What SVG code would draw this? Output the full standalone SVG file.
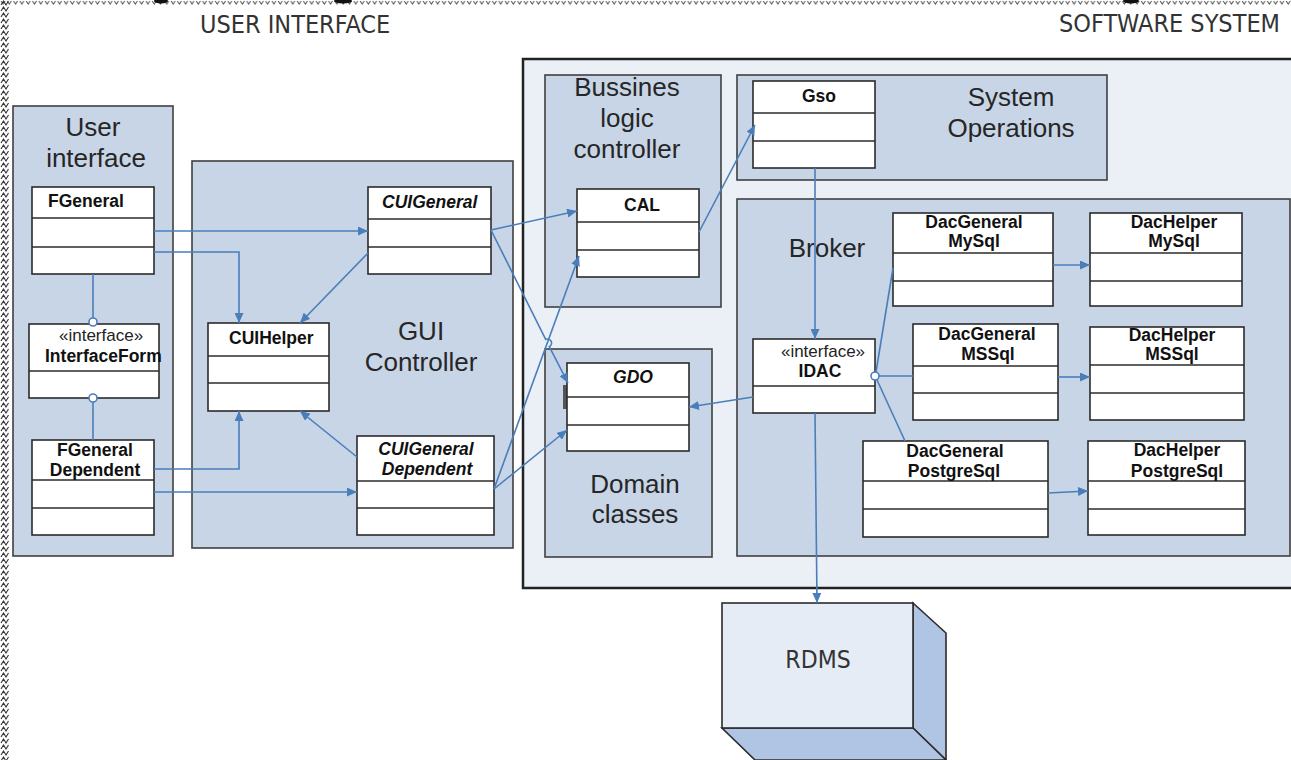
<svg xmlns="http://www.w3.org/2000/svg" width="1291" height="760" viewBox="0 0 1291 760">
<defs>
<style>
.cont{fill:#c8d5e6;stroke:#404040;stroke-width:1.6}
.box{fill:#ffffff;stroke:#2b2b2b;stroke-width:1.6}
.div{stroke:#2b2b2b;stroke-width:1.6}
.cls{font-family:"Liberation Sans",Arial,sans-serif;font-size:17.5px;font-weight:bold;fill:#111}
.it{font-style:italic}
.st{font-family:"Liberation Sans",Arial,sans-serif;font-size:17px;fill:#222}
.title{font-family:"Liberation Sans",Arial,sans-serif;font-size:26px;fill:#262626;text-anchor:middle}
.head{font-family:"DejaVu Sans Condensed","Liberation Sans",sans-serif;font-size:25px;fill:#333}
.con{fill:none;stroke:#4a7ebb;stroke-width:1.6}
.arr{marker-end:url(#ah)}
.lol{fill:#ffffff;stroke:#4a7ebb;stroke-width:1.6}
</style>
<marker id="ah" markerUnits="userSpaceOnUse" markerWidth="11" markerHeight="9" refX="10" refY="4.5" orient="auto">
<path d="M0,0 L10,4.5 L0,9 z" fill="#4a7ebb"/>
</marker>
<pattern id="zl" patternUnits="userSpaceOnUse" width="10" height="6">
<path d="M1,5 L3.5,1 L6,5 L8.5,1" fill="none" stroke="#333" stroke-width="1.1"/>
</pattern>
<pattern id="zt" patternUnits="userSpaceOnUse" width="6.3" height="5">
<path d="M1,1 L3,4 L5,1" fill="none" stroke="#555" stroke-width="1"/>
</pattern>
</defs>
<rect x="0" y="0" width="1291" height="760" fill="#ffffff"/>
<rect x="0" y="0" width="1291" height="5" fill="url(#zt)"/>
<rect x="0" y="0" width="10" height="760" fill="url(#zl)"/>
<ellipse cx="161" cy="1" rx="7" ry="2.5" fill="#111"/>
<ellipse cx="343" cy="1" rx="9" ry="2.5" fill="#111"/>
<ellipse cx="1131" cy="1" rx="8" ry="2.5" fill="#111"/>

<text class="head" x="200" y="33">USER INTERFACE</text>
<text class="head" x="1280" y="32" text-anchor="end">SOFTWARE SYSTEM</text>

<!-- containers -->
<g id="user-interface">
<rect class="cont" x="13" y="106" width="160" height="450"/>
<text class="title" x="93" y="136">User</text>
<text class="title" x="96" y="167">interface</text>
</g>
<g id="gui-controller">
<rect class="cont" x="192" y="161" width="321" height="387"/>
<text class="title" x="421" y="340">GUI</text>
<text class="title" x="421" y="371">Controller</text>
</g>
<g id="software-system">
<rect x="523" y="59" width="775" height="529" fill="#ebeff6" stroke="#222" stroke-width="2.5"/>
</g>
<g id="business-logic">
<rect class="cont" x="545" y="75" width="176" height="232"/>
<text class="title" x="627" y="96">Bussines</text>
<text class="title" x="627" y="127">logic</text>
<text class="title" x="627" y="158">controller</text>
</g>
<g id="domain-classes">
<rect class="cont" x="545" y="349" width="167" height="208"/>
<text class="title" x="635" y="493">Domain</text>
<text class="title" x="635" y="523">classes</text>
</g>
<g id="system-operations">
<rect class="cont" x="737" y="75" width="370" height="105"/>
<text class="title" x="1011" y="106">System</text>
<text class="title" x="1011" y="137">Operations</text>
</g>
<g id="broker">
<rect class="cont" x="737" y="199" width="553" height="357"/>
<text class="title" x="827" y="257">Broker</text>
</g>
<g id="rdms">
<polygon points="913,603 946,633 946,760 913,728" fill="#b0c5e3" stroke="#2b2b2b" stroke-width="1.6"/>
<polygon points="722,728 913,728 946,760 755,760" fill="#b0c5e3" stroke="#2b2b2b" stroke-width="1.6"/>
<rect x="722" y="603" width="191" height="125" fill="#e6ecf6" stroke="#2b2b2b" stroke-width="1.6"/>
<text class="head" x="818" y="668" text-anchor="middle" style="font-size:24.5px">RDMS</text>
</g>

<!-- classes -->
<g id="FGeneral">
<rect class="box" x="32" y="187" width="122" height="87"/>
<line class="div" x1="32" y1="218" x2="154" y2="218"/>
<line class="div" x1="32" y1="247" x2="154" y2="247"/>
<text class="cls" x="48" y="207">FGeneral</text>
</g>
<g id="InterfaceForm">
<rect class="box" x="29" y="324" width="130" height="74"/>
<line class="div" x1="29" y1="371" x2="159" y2="371"/>
<text class="st" x="59" y="341">«interface»</text>
<text class="cls" x="45" y="362">InterfaceForm</text>
</g>
<g id="FGeneralDependent">
<rect class="box" x="32" y="440" width="122" height="95"/>
<line class="div" x1="32" y1="480" x2="154" y2="480"/>
<line class="div" x1="32" y1="508" x2="154" y2="508"/>
<text class="cls" x="95" y="456" text-anchor="middle">FGeneral</text>
<text class="cls" x="95" y="476" text-anchor="middle">Dependent</text>
</g>
<g id="CUIHelper">
<rect class="box" x="208" y="323" width="121" height="88"/>
<line class="div" x1="208" y1="356" x2="329" y2="356"/>
<line class="div" x1="208" y1="383" x2="329" y2="383"/>
<text class="cls" x="229" y="344">CUIHelper</text>
</g>
<g id="CUIGeneral">
<rect class="box" x="368" y="187" width="123" height="87"/>
<line class="div" x1="368" y1="219" x2="491" y2="219"/>
<line class="div" x1="368" y1="247" x2="491" y2="247"/>
<text class="cls it" x="382" y="208">CUIGeneral</text>
</g>
<g id="CUIGeneralDependent">
<rect class="box" x="357" y="436" width="137" height="99"/>
<line class="div" x1="357" y1="481" x2="494" y2="481"/>
<line class="div" x1="357" y1="508" x2="494" y2="508"/>
<text class="cls it" x="426" y="455" text-anchor="middle">CUIGeneral</text>
<text class="cls it" x="427" y="475" text-anchor="middle">Dependent</text>
</g>
<g id="CAL">
<rect class="box" x="577" y="189" width="122" height="88"/>
<line class="div" x1="577" y1="222" x2="699" y2="222"/>
<line class="div" x1="577" y1="250" x2="699" y2="250"/>
<text class="cls" x="642" y="211" text-anchor="middle">CAL</text>
</g>
<g id="GDO">
<rect x="563" y="385" width="4" height="24" fill="#555"/>
<rect class="box" x="567" y="363" width="122" height="88"/>
<line class="div" x1="567" y1="397" x2="689" y2="397"/>
<line class="div" x1="567" y1="425" x2="689" y2="425"/>
<text class="cls it" x="633" y="383" text-anchor="middle">GDO</text>
</g>
<g id="Gso">
<rect class="box" x="753" y="81" width="122" height="87"/>
<line class="div" x1="753" y1="113" x2="875" y2="113"/>
<line class="div" x1="753" y1="141" x2="875" y2="141"/>
<text class="cls" x="819" y="102" text-anchor="middle">Gso</text>
</g>
<g id="IDAC">
<rect class="box" x="753" y="339" width="122" height="74"/>
<line class="div" x1="753" y1="386" x2="875" y2="386"/>
<text class="st" x="823" y="357" text-anchor="middle">«interface»</text>
<text class="cls" x="820" y="377" text-anchor="middle">IDAC</text>
</g>
<g id="DacGeneralMySql">
<rect class="box" x="893" y="213" width="160" height="93"/>
<line class="div" x1="893" y1="253" x2="1053" y2="253"/>
<line class="div" x1="893" y1="281" x2="1053" y2="281"/>
<text class="cls" x="974" y="228" text-anchor="middle">DacGeneral</text>
<text class="cls" x="974" y="247" text-anchor="middle">MySql</text>
</g>
<g id="DacHelperMySql">
<rect class="box" x="1090" y="213" width="152" height="93"/>
<line class="div" x1="1090" y1="253" x2="1242" y2="253"/>
<line class="div" x1="1090" y1="281" x2="1242" y2="281"/>
<text class="cls" x="1174" y="228" text-anchor="middle">DacHelper</text>
<text class="cls" x="1174" y="247" text-anchor="middle">MySql</text>
</g>
<g id="DacGeneralMSSql">
<rect class="box" x="913" y="324" width="145" height="96"/>
<line class="div" x1="913" y1="366" x2="1058" y2="366"/>
<line class="div" x1="913" y1="393" x2="1058" y2="393"/>
<text class="cls" x="987" y="340" text-anchor="middle">DacGeneral</text>
<text class="cls" x="988" y="360" text-anchor="middle">MSSql</text>
</g>
<g id="DacHelperMSSql">
<rect class="box" x="1090" y="327" width="154" height="93"/>
<line class="div" x1="1090" y1="365" x2="1244" y2="365"/>
<line class="div" x1="1090" y1="393" x2="1244" y2="393"/>
<text class="cls" x="1172" y="341" text-anchor="middle">DacHelper</text>
<text class="cls" x="1172" y="360" text-anchor="middle">MSSql</text>
</g>
<g id="DacGeneralPostgreSql">
<rect class="box" x="863" y="441" width="185" height="96"/>
<line class="div" x1="863" y1="481" x2="1048" y2="481"/>
<line class="div" x1="863" y1="509" x2="1048" y2="509"/>
<text class="cls" x="955" y="457" text-anchor="middle">DacGeneral</text>
<text class="cls" x="954" y="477" text-anchor="middle">PostgreSql</text>
</g>
<g id="DacHelperPostgreSql">
<rect class="box" x="1088" y="441" width="157" height="94"/>
<line class="div" x1="1088" y1="481" x2="1245" y2="481"/>
<line class="div" x1="1088" y1="509" x2="1245" y2="509"/>
<text class="cls" x="1177" y="456" text-anchor="middle">DacHelper</text>
<text class="cls" x="1177" y="477" text-anchor="middle">PostgreSql</text>
</g>

<!-- connectors -->
<g id="connectors">
<path class="con arr" d="M154,231 L368,231"/>
<path class="con arr" d="M154,252 L239,252 L239,323"/>
<path class="con arr" d="M154,469 L239,469 L239,411"/>
<path class="con arr" d="M154,492 L357,492"/>
<path class="con arr" d="M368,253 L300,323"/>
<path class="con arr" d="M357,457 L300,411"/>
<path class="con arr" d="M491,230 L577,211"/>
<path class="con arr" d="M491,230 L545.7,339.4 A4,4 0 0 1 549.3,346.6 L568,383"/>
<path class="con arr" d="M494,489 L579,256"/>
<path class="con arr" d="M494,489 L567,430"/>
<path class="con arr" d="M699,232 L755,125"/>
<path class="con arr" d="M815,168 L815,339"/>
<path class="con arr" d="M753,397 L689,407"/>
<path class="con arr" d="M815,413 L817,603"/>
<path class="con arr" d="M1053,265 L1090,265"/>
<path class="con arr" d="M1058,377 L1090,377"/>
<path class="con arr" d="M1048,493 L1088,491"/>
<path class="con" d="M93,274 L93,318"/>
<circle class="lol" cx="93" cy="322" r="4"/>
<path class="con" d="M93,402 L93,440"/>
<circle class="lol" cx="93" cy="398" r="4"/>
<path class="con" d="M876,372 L893,268"/>
<path class="con" d="M879,376 L913,376"/>
<path class="con" d="M877,380 L905,441"/>
<circle class="lol" cx="875" cy="376" r="4"/>
</g>
</svg>
